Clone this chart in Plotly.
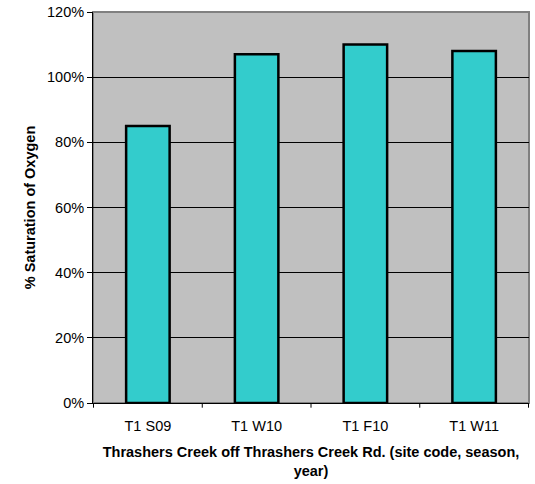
import plotly.graph_objects as go

SITES = ["T1 S09", "T1 W10", "T1 F10", "T1 W11"]
SATURATION = [0.85, 1.07, 1.10, 1.08]
Y_TICKS = [0, 0.2, 0.4, 0.6, 0.8, 1.0, 1.2]
Y_TICK_TEXT = ["0%", "20%", "40%", "60%", "80%", "100%", "120%"]

FONT = "Liberation Sans, Arial, Helvetica, sans-serif"

fig = go.Figure(
    go.Bar(
        x=SITES,
        y=SATURATION,
        width=0.4,
        marker=dict(color="#33CCCC", line=dict(color="black", width=2.5)),
    )
)

# grey border around the plot area (top/right visible)
fig.add_shape(
    type="rect", xref="paper", yref="paper", x0=0, y0=0, x1=1, y1=1,
    line=dict(color="#808080", width=2), layer="below",
)

fig.update_layout(
    width=535,
    height=484,
    margin=dict(l=93, r=6, t=12, b=81),
    paper_bgcolor="white",
    plot_bgcolor="#C0C0C0",
    showlegend=False,
    font=dict(family=FONT, size=14.5, color="black"),
)
fig.update_xaxes(
    automargin=False,
    showgrid=False,
    showline=True,
    linecolor="black",
    linewidth=1,
    ticks="",
    ticklabelstandoff=10,
    tickfont=dict(size=14.5),
    title=dict(
        text="<b>Thrashers Creek off Thrashers Creek Rd. (site code, season,<br>year)</b>",
        font=dict(size=14.5),
        standoff=13,
    ),
)
fig.update_yaxes(
    automargin=False,
    range=[0, 1.2],
    tickvals=Y_TICKS,
    ticktext=Y_TICK_TEXT,
    showgrid=True,
    gridcolor="black",
    gridwidth=1,
    showline=True,
    linecolor="black",
    linewidth=1,
    ticks="outside",
    ticklen=5,
    tickcolor="black",
    tickfont=dict(size=14.5),
    zeroline=False,
    title=dict(text="<b>% Saturation of Oxygen</b>", font=dict(size=14.5), standoff=7),
)

# tick marks between categories on the x axis
for pos in [-0.5, 0.5, 1.5, 2.5, 3.5]:
    fig.add_shape(
        type="line", xref="x", yref="paper", x0=pos, x1=pos, y0=0, y1=-0.012,
        line=dict(color="black", width=1),
    )

# drop the default 8px page margin so the figure fills the window
fig.write_html(
    "out.html",
    config={"displayModeBar": False},
    post_script="document.body.style.margin='0';",
)
